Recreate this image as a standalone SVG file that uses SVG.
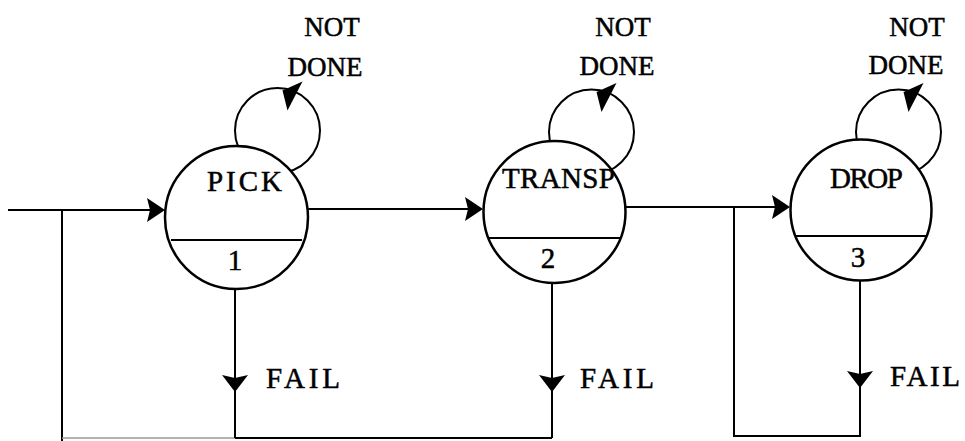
<svg xmlns="http://www.w3.org/2000/svg" width="965" height="441" viewBox="0 0 965 441">
<style>
.ln{stroke:#000;stroke-width:2;fill:none}
.faint{stroke:#999;stroke-width:1.6;fill:none}
.node{stroke:#000;stroke-width:2.5;fill:#fff}
.div{stroke:#000;stroke-width:2}
.ah{fill:#000;stroke:none}
text{font-family:"Liberation Serif","Times New Roman",serif;font-size:29px;fill:#000;stroke:#000;stroke-width:0.5}
.num{text-anchor:middle}
.lbl{text-anchor:middle;font-size:27px}
</style>
<defs>
<path id="arrR" d="M0,0 L-18,-12 L-15,0 L-18,12 Z"/>
<path id="arrD" d="M0,0 L-13,-17 L0,-14 L13,-17 Z"/>
<path id="arrL" d="M25,-49 L5,-40 L10,-20 Z"/>
</defs>
<g id="connectors">
<line class="ln" x1="8" y1="210" x2="160" y2="210"/>
<use href="#arrR" class="ah" x="165" y="210"/>
<line class="ln" x1="62" y1="210" x2="62" y2="441"/>
<line class="faint" x1="62" y1="438" x2="235" y2="438"/>
<line class="ln" x1="235" y1="438" x2="552" y2="438"/>
<line class="ln" x1="235" y1="289" x2="235" y2="438"/>
<use href="#arrD" class="ah" x="235" y="392"/>
<line class="ln" x1="308" y1="209" x2="478" y2="209"/>
<use href="#arrR" class="ah" x="483" y="209"/>
<line class="ln" x1="552" y1="282" x2="552" y2="438"/>
<use href="#arrD" class="ah" x="552" y="392"/>
<line class="ln" x1="626" y1="207" x2="786" y2="207"/>
<use href="#arrR" class="ah" x="790" y="207"/>
<polyline class="ln" points="734,207 734,436 860,436 860,280"/>
<use href="#arrD" class="ah" x="860" y="388"/>
<circle class="ln" cx="277.5" cy="130.5" r="42.5"/>
<use href="#arrL" class="ah" x="277.5" y="130.5"/>
<circle class="ln" cx="591.5" cy="132" r="42.5"/>
<use href="#arrL" class="ah" x="591.5" y="132"/>
<circle class="ln" cx="898.5" cy="132" r="42.5"/>
<use href="#arrL" class="ah" x="898.5" y="132"/>
</g>
<g id="node-pick">
<circle class="node" cx="236.5" cy="217.5" r="71.5"/>
<line class="div" x1="171" y1="240" x2="302" y2="240"/>
<text x="207" y="191" textLength="75" lengthAdjust="spacing">PICK</text>
<text class="num" x="235" y="270">1</text>
</g>
<g id="node-transp">
<circle class="node" cx="554.5" cy="212" r="71"/>
<line class="div" x1="489" y1="238" x2="620" y2="238"/>
<text x="502" y="188" textLength="113" lengthAdjust="spacing">TRANSP</text>
<text class="num" x="548" y="268">2</text>
</g>
<g id="node-drop">
<circle class="node" cx="861" cy="210" r="70.5"/>
<line class="div" x1="796" y1="236" x2="926" y2="236"/>
<text x="830" y="188" textLength="73" lengthAdjust="spacing">DROP</text>
<text class="num" x="858" y="267">3</text>
</g>
<g id="labels">
<text class="lbl" x="332" y="36">NOT</text>
<text class="lbl" x="325" y="76">DONE</text>
<text class="lbl" x="623" y="36">NOT</text>
<text class="lbl" x="617" y="75">DONE</text>
<text class="lbl" x="917" y="36">NOT</text>
<text class="lbl" x="906" y="74">DONE</text>
<text x="266" y="388" textLength="74" lengthAdjust="spacing">FAIL</text>
<text x="580" y="388" textLength="74" lengthAdjust="spacing">FAIL</text>
<text x="890" y="386" textLength="70" lengthAdjust="spacing">FAIL</text>
</g>
</svg>
